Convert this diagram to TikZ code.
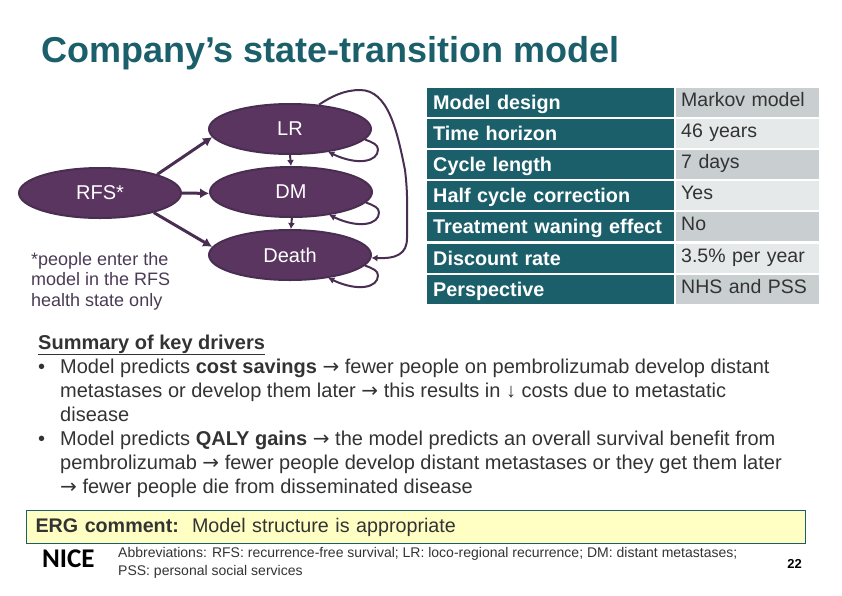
\documentclass[tikz,border=0pt]{standalone}
\usepackage{fontspec}
\setmainfont{Liberation Sans}
\newfontfamily\nicefont{Carlito}
\newfontfamily\arrowfont{DejaVu Sans}
\newcommand{\goesto}{{\arrowfont →}}
\usetikzlibrary{shapes.geometric,arrows.meta}
\definecolor{nicepurple}{HTML}{5A3560}
\definecolor{niceline}{HTML}{4A2E52}
\definecolor{niceteal}{HTML}{1B5F6B}
\definecolor{greydark}{HTML}{C9CFD1}
\definecolor{greylight}{HTML}{E6E9E9}
\definecolor{bodytext}{HTML}{333333}
\definecolor{notetext}{HTML}{4B3A55}
\definecolor{bannerfill}{HTML}{FFFFC4}
\tikzset{
  state/.style={ellipse, draw=niceline, line width=2pt, fill=nicepurple, text=white, minimum width=162pt, minimum height=50pt, inner sep=0pt, font=\fontsize{20}{24}\selectfont},
  bigarrow/.style={draw=niceline, line width=3pt, -{Latex[length=9pt,width=10pt]}},
  thinarrow/.style={draw=niceline, line width=2pt, -{Latex[length=6pt,width=7pt]}},
  headcell/.style={anchor=north west, fill=niceteal, text=white, minimum width=247pt, minimum height=29pt, inner sep=0pt, font=\fontsize{19.8}{24}\bfseries\selectfont, text width=235pt, align=left, text height=17pt, text depth=3pt},
  valcell/.style={anchor=north west, minimum width=143pt, minimum height=29pt, inner sep=0pt, text=bodytext, font=\fontsize{19.5}{24}\selectfont, text width=133pt, align=left, text height=15pt, text depth=8pt},
  bodyline/.style={anchor=base west, inner sep=0pt, text=bodytext, font=\fontsize{20}{24}\selectfont},
}
\begin{document}
\begin{tikzpicture}[x=1pt,y=-1pt]
\useasboundingbox (0,0) rectangle (842,595);

\node(title) [anchor=base west, inner sep=0pt, text=niceteal, font=\fontsize{36}{40}\bfseries\selectfont] at (41,62) {Company’s state-transition model};

% states
\node(LR) [state] at (290,129) {LR};
\node(DM) [state] at (291,192) {DM};
\node(Death) [state] at (290,255) {Death};
\node(RFS) [state] at (100,193) {RFS*};

\node(entry) [anchor=north west, inner sep=0pt, align=left, text=notetext, font=\fontsize{18}{20.5}\selectfont] at (31,252) {*people enter the\\model in the RFS\\health state only};

\draw[bigarrow] (RFS.18) -- (LR.186);
\draw[bigarrow] (RFS.east) -- (DM.181);
\draw[bigarrow] (RFS.-20) -- (Death.174);
\draw[thinarrow] (LR.south) -- (DM.north);
\draw[thinarrow] (DM.-88) -- (Death.88);

\draw[thinarrow] (LR.-8) .. controls +(8,3) and +(0,-5) .. ++(13,10) .. controls +(0,12) and +(30,14) .. (LR.-31);
\draw[thinarrow] (DM.-8) .. controls +(8,3) and +(0,-5) .. ++(13,10) .. controls +(0,12) and +(30,14) .. (DM.-31);
\draw[thinarrow] (Death.-8) .. controls +(8,3) and +(0,-5) .. ++(13,10) .. controls +(0,12) and +(30,14) .. (Death.-31);
\coordinate(bendtop) at (360,90);
\coordinate(bendright) at (405,170);
\coordinate(bendlow) at (407,238);
\draw[thinarrow] (LR.40) .. controls +(12,-8) and +(-16,0) .. (bendtop) .. controls +(28,0) and +(-8,-40) .. (bendright) .. controls +(3,25) and +(0,-30) .. (bendlow) .. controls +(0,16) and +(25,1) .. (Death.-2);

% table
\node(designkey) [headcell] at (427,88) {Model design};
\node(horizonkey) [headcell] at (427,119) {Time horizon};
\node(cyclekey) [headcell] at (427,150) {Cycle length};
\node(halfkey) [headcell] at (427,181) {Half cycle correction};
\node(waningkey) [headcell] at (427,212) {Treatment waning effect};
\node(discountkey) [headcell] at (427,244) {Discount rate};
\node(perspectivekey) [headcell] at (427,275) {Perspective};
\node(designval) [valcell, fill=greydark] at (676,88) {Markov model};
\node(horizonval) [valcell, fill=greylight] at (676,119) {46 years};
\node(cycleval) [valcell, fill=greydark] at (676,150) {7 days};
\node(halfval) [valcell, fill=greylight] at (676,181) {Yes};
\node(waningval) [valcell, fill=greydark] at (676,212) {No};
\node(discountval) [valcell, fill=greylight] at (676,244) {3.5\% per year};
\node(perspectiveval) [valcell, fill=greydark] at (676,275) {NHS and PSS};

% key drivers
\node(drivers) [bodyline] at (38,349) {\textbf{\underline{Summary of key drivers}}};
\node(bulletone) [bodyline] at (38,373) {•};
\node(lineone) [bodyline] at (60,373) {Model predicts \textbf{cost savings} \goesto{} fewer people on pembrolizumab develop distant};
\node(linetwo) [bodyline] at (60,397) {metastases or develop them later \goesto{} this results in ↓ costs due to metastatic};
\node(linethree) [bodyline] at (60,421) {disease};
\node(bullettwo) [bodyline] at (38,445) {•};
\node(linefour) [bodyline] at (60,445) {Model predicts \textbf{QALY gains} \goesto{} the model predicts an overall survival benefit from};
\node(linefive) [bodyline] at (60,469) {pembrolizumab \goesto{} fewer people develop distant metastases or they get them later};
\node(linesix) [bodyline] at (60,493) {\goesto{} fewer people die from disseminated disease};

% comment
\node(comment) [draw=niceteal, line width=1pt, fill=bannerfill, anchor=north west, minimum width=779pt, minimum height=33pt, inner sep=0pt, text width=761pt, align=left, text=bodytext, font=\fontsize{19.7}{24}\selectfont] at (26,510) {\textbf{ERG comment:}\, Model structure is appropriate};

% footer
\node(logo) [anchor=base west, inner sep=0pt, font=\nicefont\fontsize{27}{30}\bfseries\selectfont] at (42,567) {NICE};
\node(abbrev) [anchor=north west, inner sep=0pt, align=left, text=bodytext, font=\fontsize{14}{18}\selectfont] at (118,547) {Abbreviations: RFS: recurrence-free survival; LR: loco-regional recurrence; DM: distant metastases;\\PSS: personal social services};
\node(page) [anchor=base east, inner sep=0pt, font=\fontsize{13}{15}\bfseries\selectfont] at (802,568) {22};
\end{tikzpicture}
\end{document}
